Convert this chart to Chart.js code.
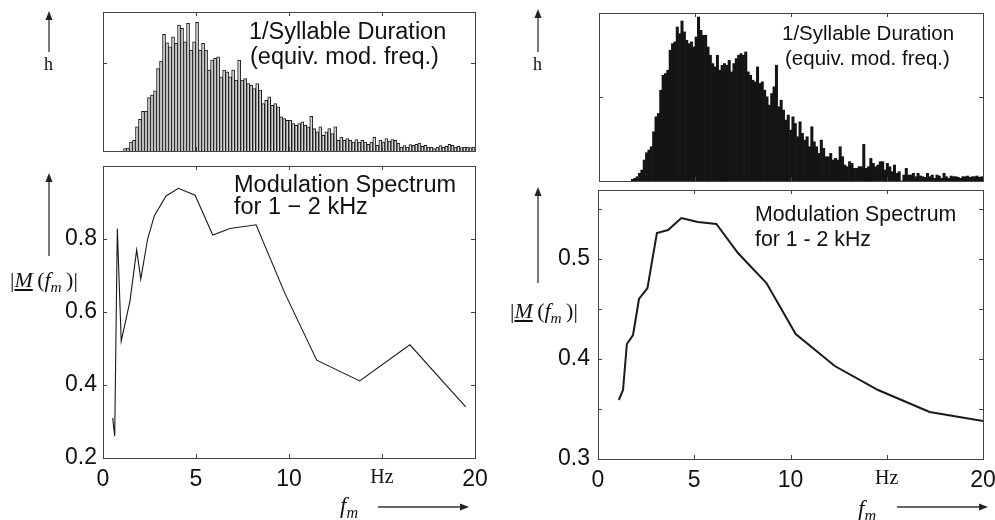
<!DOCTYPE html>
<html>
<head>
<meta charset="utf-8">
<script src="https://cdn.jsdelivr.net/npm/chart.js@4.4.1/dist/chart.umd.min.js"></script>
<style>
  html, body { margin: 0; padding: 0; background: #fff; }
  #page { position: relative; width: 995px; height: 520px; overflow: hidden; }
  canvas { position: absolute; }
  .t { position: absolute; white-space: nowrap; line-height: 1; color: #111; }
  .sans { font-family: 'Liberation Sans', Arial, sans-serif; }
  .serif { font-family: 'Liberation Serif', 'Times New Roman', serif; }
  .t sub { font-size: 70%; vertical-align: -0.3em; line-height: 0; }
</style>
</head>
<body>
<div id="page">
  <canvas id="histL" width="495" height="160" style="left:0;top:0"></canvas>
  <canvas id="specL" width="495" height="360" style="left:0;top:160px"></canvas>
  <canvas id="histR" width="495" height="190" style="left:500px;top:0"></canvas>
  <canvas id="specR" width="495" height="340" style="left:500px;top:180px"></canvas>

  <!-- textos de los paneles -->
  <div class="t sans" style="left:249px;top:20.1px;font-size:23.5px">1/Syllable Duration</div>
  <div class="t sans" style="left:250px;top:45.1px;font-size:23.5px">(equiv. mod. freq.)</div>
  <div class="t sans" style="left:782px;top:22.6px;font-size:20.5px">1/Syllable Duration</div>
  <div class="t sans" style="left:785px;top:47.6px;font-size:20.5px">(equiv. mod. freq.)</div>
  <div class="t sans" style="left:234px;top:173.4px;font-size:23.5px">Modulation Spectrum</div>
  <div class="t sans" style="left:234px;top:195.1px;font-size:23.5px">for 1 − 2 kHz</div>
  <div class="t sans" style="left:755px;top:204px;font-size:21.3px">Modulation Spectrum</div>
  <div class="t sans" style="left:755px;top:229px;font-size:21.3px">for 1 - 2 kHz</div>

  <!-- etiquetas de ejes -->
  <div class="t serif" style="left:44px;top:55px;font-size:18px">h</div>
  <div class="t serif" style="left:533px;top:55px;font-size:18px">h</div>
  <div class="t serif" style="left:10px;top:269px;font-size:22px">|<u><i>M</i></u>&#8201;(<i>f<sub>m</sub></i>&#8201;)|</div>
  <div class="t serif" style="left:510px;top:300px;font-size:22px">|<u><i>M</i></u>&#8201;(<i>f<sub>m</sub></i>&#8201;)|</div>
  <div class="t serif" style="left:340px;top:494px;font-size:23px"><i>f<sub>m</sub></i></div>
  <div class="t serif" style="left:858px;top:497px;font-size:23px"><i>f<sub>m</sub></i></div>

  <svg width="995" height="520" style="position:absolute;left:0;top:0">
    <g stroke="#333" stroke-width="1.3">
      <line x1="49" y1="52" x2="49" y2="19"/>
      <line x1="538" y1="52" x2="538" y2="17"/>
      <line x1="49" y1="256" x2="49" y2="181"/>
      <line x1="538" y1="283" x2="538" y2="195"/>
      <line x1="378" y1="507" x2="460" y2="507"/>
      <line x1="897" y1="507" x2="979" y2="507"/>
    </g>
    <g fill="#222">
      <polygon points="49,11 45.5,20 52.5,20"/>
      <polygon points="538,9 534.5,18 541.5,18"/>
      <polygon points="49,173 45.5,182 52.5,182"/>
      <polygon points="538,187 534.5,196 541.5,196"/>
      <polygon points="469,507 460,503.5 460,510.5"/>
      <polygon points="988,507 979,503.5 979,510.5"/>
    </g>
  </svg>
</div>

<script>
// Histograma izquierdo (1/duración de sílaba), alturas en unidades arbitrarias
const histLeftStart = 1.10;   // borde izquierdo del primer bin (Hz)
const histLeft = [7, 9, 27, 32, 72, 95, 119, 119, 160, 167, 180, 247, 269, 349, 324, 312, 342, 322, 377, 367,
  327, 382, 302, 327, 385, 302, 322, 302, 242, 272, 277, 282, 222, 242, 237, 222, 242, 212, 272, 212,
  217, 202, 197, 187, 202, 182, 142, 152, 162, 137, 142, 132, 102, 97, 92, 92, 82, 77, 82, 87,
  77, 72, 104, 67, 57, 72, 47, 57, 67, 52, 72, 32, 42, 32, 37, 32, 27, 34, 27, 32,
  27, 20, 27, 42, 17, 32, 27, 37, 30, 34, 32, 24, 12, 16, 12, 19, 17, 20, 24, 14,
  17, 12, 12, 7, 12, 16, 12, 14, 20, 17, 12, 14, 10, 12, 12, 10, 12];
const histLeftMax = 416;
const histLeftTick = 262;

// Histograma derecho
const histRightStart = 1.68;
const histRight = [5, 8, 13, 23, 33, 63, 85, 93, 103, 148, 193, 203, 273, 318, 323, 333, 393, 413, 418, 463,
  443, 481, 448, 423, 413, 418, 403, 433, 493, 453, 438, 438, 403, 378, 353, 343, 378, 333, 348, 353,
  348, 363, 328, 353, 368, 378, 383, 378, 388, 328, 318, 303, 298, 343, 293, 298, 273, 253, 228, 263,
  283, 348, 223, 243, 213, 183, 198, 153, 193, 173, 133, 178, 143, 123, 133, 103, 163, 118, 103, 83,
  123, 98, 73, 73, 83, 63, 68, 63, 103, 73, 48, 43, 58, 53, 38, 38, 43, 43, 110, 38,
  43, 68, 53, 43, 48, 58, 58, 33, 53, 43, 28, 48, 23, 28, 0, 18, 38, 18, 18, 23,
  13, 23, 15, 13, 11, 23, 13, 18, 8, 18, 15, 8, 23, 13, 8, 15, 13, 13, 11, 8,
  13, 13, 15, 11, 13, 13, 15, 11, 13];
const histRightMax = 505;
const histRightTick = 253;

// Espectro de modulación, 1-2 kHz
const specLeftFreq = [0.52, 0.63, 0.77, 0.98, 1.45, 1.81, 2.03, 2.4, 2.76, 3.39, 4.05, 4.95, 5.9, 6.83, 8.23, 9.78, 11.49, 13.8, 16.5, 19.5];
const specLeftMag  = [0.31, 0.26, 0.828, 0.52, 0.63, 0.77, 0.69, 0.80, 0.864, 0.918, 0.939, 0.92, 0.811, 0.829, 0.839, 0.651, 0.468, 0.411, 0.51, 0.34];

const specRightFreq = [1.08, 1.30, 1.50, 1.82, 2.13, 2.57, 3.06, 3.64, 4.33, 5.19, 6.15, 7.27, 8.75, 10.27, 12.3, 14.55, 17.23, 20];
const specRightMag  = [0.359, 0.369, 0.415, 0.424, 0.460, 0.471, 0.526, 0.529, 0.541, 0.537, 0.535, 0.506, 0.476, 0.425, 0.393, 0.369, 0.347, 0.338];

// Etiquetas del eje x (15 Hz se rotula "Hz")
const xTickValues = [0, 5, 10, 15, 20];
const xTickLabels = ['0', '5', '10', 'Hz', '20'];

Chart.defaults.font.family = "'Liberation Sans', Arial, sans-serif";
Chart.defaults.color = '#111';

// Marco tipo Matlab con marcas hacia dentro en los cuatro lados
const framePlugin = {
  id: 'frame',
  afterDraw(chart) {
    const { ctx, chartArea: a, scales } = chart;
    const len = 4;
    ctx.save();
    ctx.strokeStyle = '#444';
    ctx.lineWidth = 1;
    ctx.strokeRect(Math.round(a.left) + 0.5, Math.round(a.top) + 0.5,
      Math.round(a.right - a.left), Math.round(a.bottom - a.top));
    ctx.beginPath();
    scales.x.ticks.forEach(t => {
      const px = Math.round(scales.x.getPixelForValue(t.value)) + 0.5;
      ctx.moveTo(px, a.top); ctx.lineTo(px, a.top + len);
      ctx.moveTo(px, a.bottom); ctx.lineTo(px, a.bottom - len);
    });
    scales.y.ticks.forEach(t => {
      const py = Math.round(scales.y.getPixelForValue(t.value)) + 0.5;
      ctx.moveTo(a.left, py); ctx.lineTo(a.left + len, py);
      ctx.moveTo(a.right, py); ctx.lineTo(a.right - len, py);
    });
    ctx.stroke();
    ctx.restore();
  }
};

function binData(start, counts) {
  const w = (20 - start) / counts.length;
  return counts.map((h, i) => ({ x: start + (i + 0.5) * w, y: h }));
}

function histogram(id, start, counts, max, tick, pad, fill, edge) {
  return new Chart(document.getElementById(id), {
    type: 'bar',
    data: {
      datasets: [{
        data: binData(start, counts),
        backgroundColor: fill,
        borderColor: edge,
        borderWidth: edge ? 1 : 0,
        barPercentage: 1,
        categoryPercentage: 1
      }]
    },
    options: {
      responsive: false,
      animation: false,
      events: [],
      layout: { padding: pad },
      plugins: { legend: { display: false }, tooltip: { enabled: false } },
      scales: {
        x: { type: 'linear', min: 0, max: 20, offset: false, display: false, ticks: { stepSize: 5 } },
        y: { min: 0, max: max, display: false, ticks: { stepSize: tick, includeBounds: false } }
      }
    },
    plugins: [framePlugin]
  });
}

function spectrum(id, freq, mag, yOpts, lineW, axisW, axisH, pad) {
  return new Chart(document.getElementById(id), {
    type: 'line',
    data: {
      datasets: [{
        data: freq.map((f, i) => ({ x: f, y: mag[i] })),
        borderColor: '#1a1a1a',
        borderWidth: lineW,
        pointRadius: 0,
        tension: 0,
        fill: false
      }]
    },
    options: {
      responsive: false,
      animation: false,
      events: [],
      layout: { padding: pad },
      plugins: { legend: { display: false }, tooltip: { enabled: false } },
      scales: {
        x: {
          type: 'linear', min: 0, max: 20,
          grid: { display: false, drawTicks: false },
          border: { display: false },
          afterBuildTicks: s => { s.ticks = xTickValues.map(v => ({ value: v })); },
          ticks: {
            padding: 8, maxRotation: 0, autoSkip: false,
            font: c => (c.tick && c.tick.value === 15)
              ? { family: "'Liberation Serif', serif", size: 20 }
              : { size: 23 },
            callback: v => xTickLabels[xTickValues.indexOf(v)]
          },
          afterFit: s => { s.height = axisH; s.paddingLeft = 0; s.paddingRight = 0; }
        },
        y: Object.assign({
          grid: { display: false, drawTicks: false },
          border: { display: false },
          afterFit: s => { s.width = axisW; s.paddingTop = 0; s.paddingBottom = 0; }
        }, yOpts)
      }
    },
    plugins: [framePlugin]
  });
}

histogram('histL', histLeftStart, histLeft, histLeftMax, histLeftTick,
  { left: 103, right: 20, top: 12, bottom: 9 }, '#d6d6d6', '#1c1c1c');
histogram('histR', histRightStart, histRight, histRightMax, histRightTick,
  { left: 99, right: 12, top: 13, bottom: 9 }, '#141414', null);

spectrum('specL', specLeftFreq, specLeftMag, {
  min: 0.2, max: 1.0,
  ticks: { stepSize: 0.2, padding: 6, font: { size: 23 }, callback: v => v > 0.95 ? '' : v.toFixed(1) }
}, 1.1, 103, 62, { right: 20, top: 6 });

spectrum('specR', specRightFreq, specRightMag, {
  min: 0.3, max: 0.569,
  ticks: {
    stepSize: 0.05, includeBounds: false, padding: 8, font: { size: 23 },
    callback: v => Math.abs(v * 10 - Math.round(v * 10)) < 1e-6 ? v.toFixed(1) : ''
  }
}, 2, 98, 61, { right: 12, top: 10 });
</script>
</body>
</html>
